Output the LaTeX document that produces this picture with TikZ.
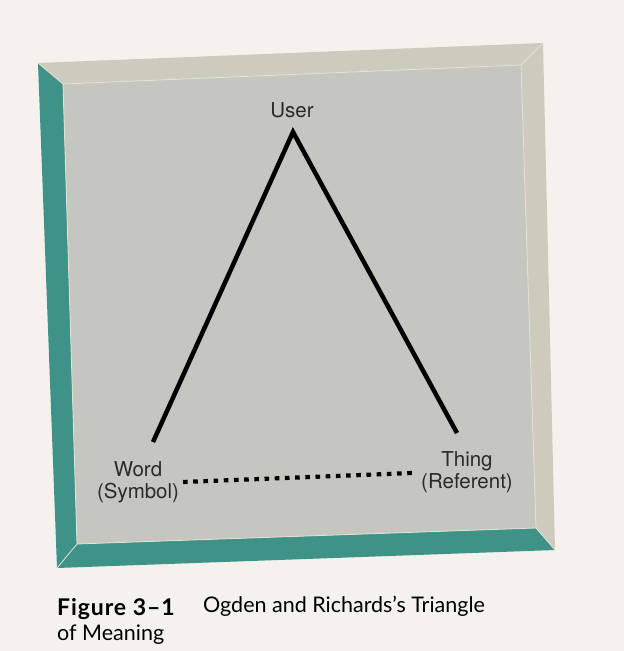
\documentclass[tikz,border=0pt]{standalone}
\usepackage{fontspec}
\setmainfont{TeX Gyre Heros}
\newfontfamily\captionfont{Lato}
\newfontfamily\fignumfont{Lato}[LetterSpace=4]
\usetikzlibrary{positioning, calc}

\definecolor{paper}{HTML}{F5F1EC}
\definecolor{bevel}{HTML}{CDCBBE}
\definecolor{bevelteal}{HTML}{3F9287}
\definecolor{panel}{HTML}{C5C6C0}
\definecolor{shine}{HTML}{E4E2D8}
\definecolor{ink}{HTML}{2A2A2A}

\begin{document}
\begin{tikzpicture}[
    x=1pt,y=-1pt,
    label/.style={font=\fontsize{20.5}{22}\selectfont, align=center, inner sep=0pt, text=ink},
    side/.style={line width=4.5pt, black},
    link/.style={line width=4.2pt, dash pattern=on 4.6pt off 5.6pt, black},
    caption/.style={font=\captionfont\fontsize{21.5}{25}\selectfont, anchor=base west, inner sep=0pt, text=black}
]

    % --- Page ---
    \fill[paper] (0,0) rectangle (624,651);
    \useasboundingbox (0,0) rectangle (624,651);

    % --- Frame ---
    \fill[bevel] (38,63) -- (543,43) -- (521,65) -- (63,84) -- cycle; % top
    \fill[bevel] (543,43) -- (555,550) -- (536,528) -- (521,65) -- cycle; % right
    \fill[bevelteal] (38,63) -- (63,84) -- (77,544) -- (57,568) -- cycle; % left
    \fill[bevelteal] (57,568) -- (77,544) -- (536,528) -- (555,550) -- cycle; % bottom
    \fill[panel] (63,84) -- (521,65) -- (536,528) -- (77,544) -- cycle;
    \draw[shine, line width=0.8pt] (63,84) -- (521,65) -- (536,528) -- (77,544) -- cycle;
    \draw[shine, line width=0.8pt] (38,63) -- (63,84) (543,43) -- (521,65)
        (555,550) -- (536,528) (57,568) -- (77,544);

    % --- Corners of the triangle ---
    \node[label, anchor=base] (user) at (292,117) {User};
    \node[label, anchor=base] (word) at (138,498) {Word\\(Symbol)};
    \node[label, anchor=base] (thing) at (467,488) {Thing\\(Referent)};

    \coordinate (apex) at (293,132);
    \coordinate (wordend) at (153,442);
    \coordinate (thingend) at (457,433);
    \coordinate (symbolend) at (183,482);
    \coordinate (referentend) at (412,473);

    % --- Sides ---
    \draw[side] (wordend) -- (apex) -- (thingend);
    \draw[link] (symbolend) -- (referentend);

    % --- Caption ---
    \node[caption] (fignum) at (57,615) {\fignumfont\fontsize{23}{25}\selectfont\bfseries Figure 3–1};
    \node[caption] (figtitle) at (203,612) {Ogden and Richards’s Triangle};
    \node[caption] (figtitle2) at (57,640) {of Meaning};

\end{tikzpicture}
\end{document}
